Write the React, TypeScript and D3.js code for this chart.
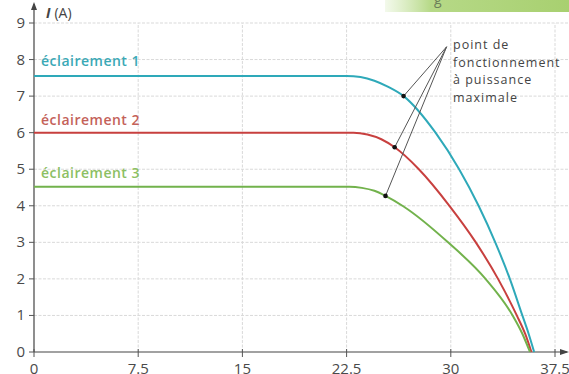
import React from "react";
import * as d3 from "d3";

const W = 569;
const H = 374;

const xTicks = [0, 7.5, 15, 22.5, 30, 37.5];
const xTickLabels = ["0", "7.5", "15", "22.5", "30", "37.5"];
const yTicks = [0, 1, 2, 3, 4, 5, 6, 7, 8, 9];

const blueV = [0, 22.5, 23.5, 24.5, 25.5, 26.6, 28.9, 30.6, 32.0, 33.2, 34.25, 35.15, 35.6, 36.0];
const blueI = [7.55, 7.55, 7.52, 7.42, 7.25, 7.0, 6.0, 5.0, 4.0, 3.0, 2.0, 1.0, 0.5, 0];

const redV = [0, 23.0, 24.0, 25.0, 25.96, 27.7, 29.9, 31.8, 33.4, 34.75, 35.35, 35.8];
const redI = [6.0, 6.0, 5.95, 5.82, 5.6, 5.0, 4.0, 3.0, 2.0, 1.0, 0.5, 0];

const greenV = [0, 22.7, 23.6, 24.5, 25.3, 26.6, 29.8, 32.5, 34.45, 35.15, 35.7];
const greenI = [4.52, 4.52, 4.49, 4.41, 4.27, 3.98, 3.0, 2.0, 1.0, 0.5, 0];

const seriesNames = ["éclairement 1", "éclairement 2", "éclairement 3"];
const seriesColors = ["#2ea9b9", "#c8403f", "#72b24c"];
const labelColors = ["#3aa9b6", "#c4625a", "#8cc063"];
const labelY = [7.95, 6.35, 4.9];

const mppV = [26.6, 25.96, 25.3];
const mppI = [7.0, 5.6, 4.27];
const annotApex = [29.7, 8.35];
const annotLines = ["point de", "fonctionnement", "à puissance", "maximale"];

export default function App() {
  const x = d3.scaleLinear().domain([0, 37.5]).range([34, 555]);
  const y = d3.scaleLinear().domain([0, 9]).range([352, 23]);

  const series = [
    blueV.map((v, i) => [v, blueI[i]]),
    redV.map((v, i) => [v, redI[i]]),
    greenV.map((v, i) => [v, greenI[i]]),
  ];
  const line = d3
    .line<number[]>()
    .x((d) => x(d[0]))
    .y((d) => y(d[1]))
    .curve(d3.curveMonotoneX);

  const font = "'Open Sans', 'DejaVu Sans', sans-serif";
  const x0 = x(0);
  const y0 = y(0);

  return (
    <svg
      width={W}
      height={H}
      style={{ position: "absolute", left: 0, top: 0, background: "#fff" }}
      fontFamily={font}
    >
      <defs>
        <linearGradient id="banner" x1="0" x2="1" y1="0" y2="0">
          <stop offset="0" stopColor="#c4e29e" stopOpacity="0.2" />
          <stop offset="0.25" stopColor="#b6d987" />
          <stop offset="1" stopColor="#a8d070" />
        </linearGradient>
      </defs>
      <rect x={385} y={0} width={184} height={12} fill="url(#banner)" />
      <text x={434} y={4} fontSize={14} fill="#6d7f5a">g</text>

      {/* grid */}
      {yTicks.filter((t) => t > 0).map((t) => (
        <line key={"gy" + t} x1={x0} x2={W} y1={y(t)} y2={y(t)} stroke="#d9d9d9" strokeWidth={1} strokeDasharray="3,1.5" />
      ))}
      {xTicks.filter((t) => t > 0).map((t) => (
        <line key={"gx" + t} x1={x(t)} x2={x(t)} y1={y0} y2={y(9)} stroke="#d9d9d9" strokeWidth={1} strokeDasharray="3,1.5" />
      ))}

      {/* axes */}
      <line x1={x0} x2={x0} y1={y0} y2={4} stroke="#444" strokeWidth={1.2} />
      <path d={`M${x0 - 3},${10} L${x0},${2} L${x0 + 3},${10} Z`} fill="#444" />
      <line x1={x0} x2={W - 2} y1={y0} y2={y0} stroke="#444" strokeWidth={1.2} />
      <path d={`M${W - 9},${y0 - 3} L${W},${y0} L${W - 9},${y0 + 3} Z`} fill="#444" />

      {yTicks.map((t) => (
        <g key={"yt" + t}>
          <line x1={x0 - 5} x2={x0} y1={y(t)} y2={y(t)} stroke="#555" />
          <text x={x0 - 9} y={y(t) + 5} fontSize={15} fill="#4a4a4a" textAnchor="end">{t}</text>
        </g>
      ))}
      {xTicks.map((t, i) => (
        <g key={"xt" + t}>
          <line x1={x(t)} x2={x(t)} y1={y0 - 3} y2={y0 + 5} stroke="#555" />
          <text x={x(t)} y={y0 + 22} fontSize={15} fill="#4a4a4a" textAnchor="middle">{xTickLabels[i]}</text>
        </g>
      ))}

      <text x={46} y={18} fontSize={14} fill="#444">
        <tspan fontStyle="italic" fontWeight="bold">I</tspan>
        <tspan dx={4}>(A)</tspan>
      </text>

      {/* curves */}
      {series.map((s, i) => (
        <path key={"c" + i} d={line(s) || ""} fill="none" stroke={seriesColors[i]} strokeWidth={2} />
      ))}

      {seriesNames.map((n, i) => (
        <text key={"l" + i} x={41} y={y(labelY[i]) + 5} fontSize={14} fontWeight={600} letterSpacing={0.5} fill={labelColors[i]}>{n}</text>
      ))}

      {/* annotation */}
      {mppV.map((v, i) => (
        <line key={"al" + i} x1={x(annotApex[0])} y1={y(annotApex[1])} x2={x(v)} y2={y(mppI[i])} stroke="#555" strokeWidth={1} />
      ))}
      {mppV.map((v, i) => (
        <circle key={"ad" + i} cx={x(v)} cy={y(mppI[i])} r={2.3} fill="#111" />
      ))}
      {annotLines.map((t, i) => (
        <text key={"at" + i} x={453} y={49 + i * 17.5} fontSize={12.5} letterSpacing={1} fill="#444">{t}</text>
      ))}
    </svg>
  );
}
